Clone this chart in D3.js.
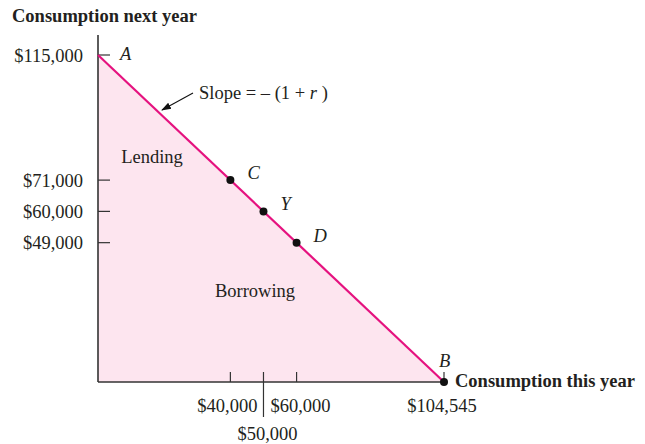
<!DOCTYPE html>
<html lang="en">
<head>
	<meta charset="utf-8">
	<title>Consumption this year vs next year</title>
	<script src="https://d3js.org/d3.v7.min.js"></script>
	<style>
		body { margin: 0; background: #fff; }
		text { font-family: "Liberation Serif", "Times New Roman", serif; fill: #231f20; }
		.bold { font-weight: bold; }
		.it { font-style: italic; }
	</style>
</head>
<body>
	<script>
		// values
		var yTicks = [115000, 71000, 60000, 49000];
		var xTicks = [40000, 50000, 60000, 104545];
		var pointNames = ["C", "Y", "D"];
		var pointThisYear = [40000, 50000, 60000];
		var pointNextYear = [71000, 60000, 49000];
		var maxThisYear = 104545;
		var maxNextYear = 115000;

		var width = 645, height = 444;
		var fs = 18.5;
		var fmt = function(v) { return "$" + d3.format(",")(v); };

		var svg = d3.select("body").append("svg")
			.attr("width", width)
			.attr("height", height);

		var x = d3.scaleLinear().domain([0, maxThisYear]).range([98, 444]);
		var y = d3.scaleLinear().domain([0, maxNextYear]).range([382, 55]);

		// shaded triangle under the budget line
		svg.append("path")
			.attr("d", d3.line()([[x(0), y(0)], [x(0), y(maxNextYear)], [x(maxThisYear), y(0)]]) + "Z")
			.attr("fill", "#fde5ef");

		// axes
		svg.append("line").attr("x1", x(0)).attr("x2", x(0)).attr("y1", 35).attr("y2", y(0))
			.attr("stroke", "#333").attr("stroke-width", 1.6);
		svg.append("line").attr("x1", x(0)).attr("x2", x(maxThisYear)).attr("y1", y(0)).attr("y2", y(0))
			.attr("stroke", "#333").attr("stroke-width", 1.6);

		// y ticks + labels
		var yt = svg.append("g").selectAll("g").data(yTicks).enter().append("g");
		yt.append("line")
			.attr("x1", x(0)).attr("x2", x(0) + 12)
			.attr("y1", function(d) { return y(d); }).attr("y2", function(d) { return y(d); })
			.attr("stroke", "#333").attr("stroke-width", 1.2);
		yt.append("text")
			.attr("x", 83).attr("y", function(d) { return y(d) + 6.5; })
			.attr("text-anchor", "end").attr("font-size", fs)
			.text(fmt);

		// x ticks
		svg.append("g").selectAll("line").data(xTicks).enter().append("line")
			.attr("x1", function(d) { return x(d); }).attr("x2", function(d) { return x(d); })
			.attr("y1", y(0) - 10)
			.attr("y2", function(d) { return d === 50000 ? y(0) + 35 : y(0); })
			.attr("stroke", "#333").attr("stroke-width", 1.2);

		var x50 = x(xTicks[1]);
		svg.append("text").attr("x", x50 - 6).attr("y", y(0) + 30).attr("text-anchor", "end")
			.attr("font-size", fs).text(fmt(xTicks[0]));
		svg.append("text").attr("x", x50 + 4).attr("y", y(0) + 58).attr("text-anchor", "middle")
			.attr("font-size", fs).text(fmt(xTicks[1]));
		svg.append("text").attr("x", x50 + 7).attr("y", y(0) + 30).attr("text-anchor", "start")
			.attr("font-size", fs).text(fmt(xTicks[2]));
		svg.append("text").attr("x", x(xTicks[3]) - 2).attr("y", y(0) + 30).attr("text-anchor", "middle")
			.attr("font-size", fs).text(fmt(xTicks[3]));

		// budget line
		svg.append("line")
			.attr("x1", x(0)).attr("y1", y(maxNextYear))
			.attr("x2", x(maxThisYear)).attr("y2", y(0))
			.attr("stroke", "#e5127f").attr("stroke-width", 2.2);

		// points
		svg.append("g").selectAll("circle").data(pointThisYear).enter().append("circle")
			.attr("cx", function(d) { return x(d); })
			.attr("cy", function(d, i) { return y(pointNextYear[i]); })
			.attr("r", 4).attr("fill", "#111");
		svg.append("circle").attr("cx", x(maxThisYear)).attr("cy", y(0)).attr("r", 4).attr("fill", "#111");

		svg.append("g").selectAll("text").data(pointNames).enter().append("text")
			.attr("class", "it")
			.attr("x", function(d, i) { return x(pointThisYear[i]) + 17; })
			.attr("y", function(d, i) { return y(pointNextYear[i]) - 1; })
			.attr("font-size", fs).text(function(d) { return d; });

		svg.append("text").attr("class", "it").attr("x", x(0) + 22).attr("y", y(maxNextYear) + 5)
			.attr("font-size", fs).text("A");
		svg.append("text").attr("class", "it").attr("x", x(maxThisYear) - 5).attr("y", y(0) - 15)
			.attr("font-size", fs).text("B");

		// region labels
		svg.append("text").attr("x", 152).attr("y", 163).attr("text-anchor", "middle")
			.attr("font-size", fs).text("Lending");
		svg.append("text").attr("x", 255).attr("y", 297).attr("text-anchor", "middle")
			.attr("font-size", fs).text("Borrowing");

		// slope annotation with arrow
		svg.append("defs").append("marker")
			.attr("id", "ah").attr("viewBox", "0 0 10 10").attr("refX", 9).attr("refY", 5)
			.attr("markerWidth", 9).attr("markerHeight", 9).attr("orient", "auto")
			.append("path").attr("d", "M0,1.5L10,5L0,8.5Z").attr("fill", "#111");
		svg.append("line").attr("x1", 193).attr("y1", 93).attr("x2", 162).attr("y2", 110)
			.attr("stroke", "#111").attr("stroke-width", 1.1).attr("marker-end", "url(#ah)");
		var slope = svg.append("text").attr("x", 199).attr("y", 99).attr("font-size", fs);
		slope.append("tspan").text("Slope = \u2013 (1 + ");
		slope.append("tspan").attr("font-style", "italic").text("r");
		slope.append("tspan").text(" )");

		// axis titles
		svg.append("text").attr("class", "bold").attr("x", 12).attr("y", 22)
			.attr("font-size", fs).text("Consumption next year");
		svg.append("text").attr("class", "bold").attr("x", 455).attr("y", 387)
			.attr("font-size", fs).text("Consumption this year");
	</script>
</body>
</html>
